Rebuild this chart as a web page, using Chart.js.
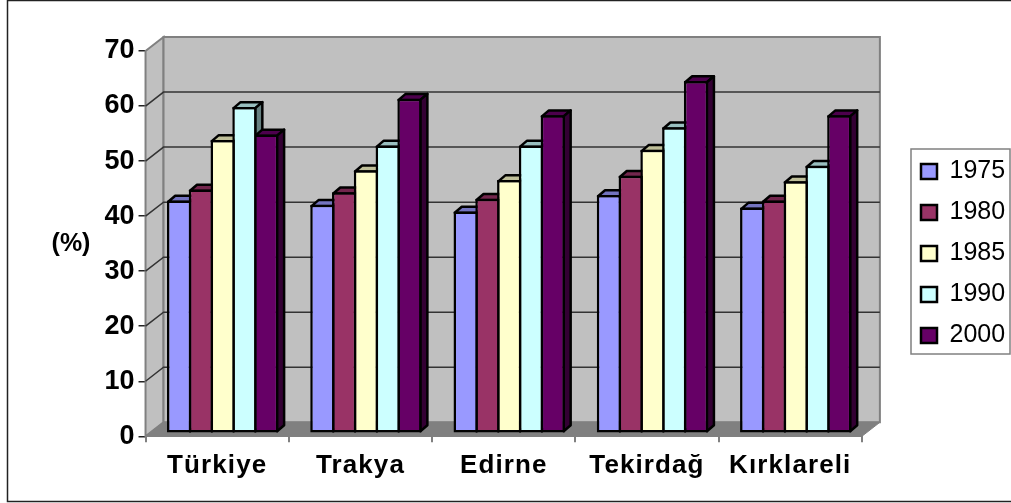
<!DOCTYPE html>
<html>
<head>
<meta charset="utf-8">
<style>
  html, body { margin: 0; padding: 0; background: #fff; }
  #wrap { width: 1011px; height: 503px; }
</style>
<script src="https://cdn.jsdelivr.net/npm/chart.js@4"></script>
</head>
<body>
<div id="wrap"><canvas id="barChart" width="1011" height="503"></canvas></div>
<script>
  var categories = ["Türkiye", "Trakya", "Edirne", "Tekirdağ", "Kırklareli"];
  var years = ["1975", "1980", "1985", "1990", "2000"];

  var values1975 = [42.3, 41.5, 40.3, 43.3, 41];
  var values1980 = [44.3, 43.8, 42.6, 46.8, 42.3];
  var values1985 = [53.3, 47.8, 46, 51.5, 45.8];
  var values1990 = [59.3, 52.3, 52.3, 55.6, 48.6];
  var values2000 = [54.3, 60.8, 57.8, 64, 57.8];

  var seriesValues = [values1975, values1980, values1985, values1990, values2000];
  var frontColors = ['#9999FF', '#993366', '#FFFFCC', '#CCFFFF', '#660066'];
  var topColors = ['#7373BF', '#73264D', '#BFBF99', '#99BFBF', '#4D004D'];
  var sideColors = ['#4D4D80', '#4D1A33', '#808066', '#668080', '#330033'];

  // depth of the walls and of the bars, in pixels
  var wallDx = 18, wallDy = -14;
  var barDx = 7, barDy = -6;
  var shiftX = 5.5, shiftY = -3;
  var barLine = 2.5;

  var fontFamily = '"Liberation Sans", Arial, sans-serif';

  function poly(ctx, pts, fill, stroke, width) {
    ctx.beginPath();
    ctx.moveTo(pts[0][0], pts[0][1]);
    for (var i = 1; i < pts.length; i++) ctx.lineTo(pts[i][0], pts[i][1]);
    ctx.closePath();
    if (fill) { ctx.fillStyle = fill; ctx.fill(); }
    if (stroke) { ctx.strokeStyle = stroke; ctx.lineWidth = width; ctx.stroke(); }
  }

  var threeD = {
    id: 'threeD',
    afterLayout: function (chart) {
      // legend sits in its own box, away from the plot
      var lg = chart.legend;
      var w = lg.width;
      lg.left = 905; lg.right = 905 + w;
      lg.top = 143; lg.bottom = 480; lg.height = 337;

      // wider lettering on the category labels
      var x = chart.scales.x;
      if (!x._spaced) {
        var draw = x.drawLabels;
        x.drawLabels = function (area) {
          chart.ctx.save();
          chart.ctx.letterSpacing = '1.1px';
          draw.call(x, area);
          chart.ctx.restore();
        };
        x._spaced = true;
      }
    },
    beforeDraw: function (chart) {
      var ctx = chart.ctx;
      ctx.save();
      ctx.fillStyle = '#fff';
      ctx.fillRect(0, 0, chart.width, chart.height);
      // outer frame
      ctx.strokeStyle = '#222';
      ctx.lineWidth = 1.5;
      ctx.strokeRect(7.5, 0.5, 1020, 501);
      // legend frame
      ctx.strokeStyle = '#808080';
      ctx.lineWidth = 1.5;
      ctx.strokeRect(911, 149, 99, 205);
      // upright axis title
      ctx.fillStyle = '#000';
      ctx.font = 'bold 25px ' + fontFamily;
      ctx.textAlign = 'center';
      ctx.textBaseline = 'middle';
      ctx.fillText('(%)', 71, 244);
      ctx.restore();
    },
    beforeDatasetsDraw: function (chart) {
      var ctx = chart.ctx, a = chart.chartArea, y = chart.scales.y;
      var l = a.left, r = a.right, t = a.top, b = a.bottom;
      ctx.save();
      poly(ctx, [[l, t], [l + wallDx, t + wallDy], [l + wallDx, b + wallDy], [l, b]], '#C0C0C0', '#808080', 2);
      poly(ctx, [[l + wallDx, t + wallDy], [r + wallDx, t + wallDy], [r + wallDx, b + wallDy], [l + wallDx, b + wallDy]], '#C0C0C0', '#808080', 2);
      poly(ctx, [[l, b], [l + wallDx, b + wallDy], [r + wallDx, b + wallDy], [r, b]], '#808080', '#808080', 1);
      y.ticks.forEach(function (tick) {
        if (tick.value === 0 || tick.value === 70) return;
        var py = y.getPixelForValue(tick.value);
        ctx.beginPath();
        ctx.moveTo(l, py);
        ctx.lineTo(l + wallDx, py + wallDy);
        ctx.lineTo(r + wallDx, py + wallDy);
        ctx.strokeStyle = '#333';
        ctx.lineWidth = 1.5;
        ctx.stroke();
      });
      ctx.restore();
      // bars stand a little inside the floor
      ctx.save();
      ctx.translate(shiftX, shiftY);
      // top and side faces go left to right, the fronts are then drawn by the library
      chart.getSortedVisibleDatasetMetas().forEach(function (meta) {
        var i = meta.index;
        meta.data.forEach(function (el) {
          var p = el.getProps(['x', 'y', 'base', 'width'], true);
          var inset = barLine / 2;
          var x0 = p.x - p.width / 2 + inset, x1 = p.x + p.width / 2 - inset;
          var y0 = p.y + inset, y1 = p.base - inset;
          ctx.lineJoin = 'round';
          poly(ctx, [[x0, y0], [x0 + barDx, y0 + barDy], [x1 + barDx, y0 + barDy], [x1, y0]], topColors[i], '#000', barLine);
          poly(ctx, [[x1, y0], [x1 + barDx, y0 + barDy], [x1 + barDx, y1 + barDy], [x1, y1]], sideColors[i], '#000', barLine);
        });
      });
    },
    afterDatasetsDraw: function (chart) {
      chart.ctx.restore();
    }
  };

  var datasets = years.map(function (year, i) {
    return {
      label: year,
      data: seriesValues[i],
      backgroundColor: frontColors[i],
      borderColor: '#000',
      borderWidth: barLine,
      borderSkipped: false,
      categoryPercentage: 0.76,
      barPercentage: 1.115
    };
  });

  var ctxB = document.getElementById("barChart").getContext('2d');
  var myBarChart = new Chart(ctxB, {
    type: 'bar',
    data: { labels: categories, datasets: datasets },
    plugins: [threeD],
    options: {
      responsive: false,
      animation: false,
      layout: { padding: { left: 100.5, top: 51, right: 39, bottom: 13.5 } },
      plugins: {
        tooltip: { enabled: false },
        legend: {
          position: 'right',
          align: 'start',
          labels: {
            boxWidth: 16,
            boxHeight: 15,
            padding: 16,
            color: '#000',
            font: { family: fontFamily, size: 25 }
          }
        }
      },
      scales: {
        x: {
          grid: { drawOnChartArea: false, tickLength: 6, color: '#808080', lineWidth: 2 },
          border: { color: '#808080', width: 2 },
          ticks: {
            autoSkip: false,
            maxRotation: 0,
            padding: 8,
            color: '#000',
            font: { family: fontFamily, size: 26, weight: 'bold' }
          }
        },
        y: {
          min: 0,
          max: 70,
          grid: { drawOnChartArea: false, tickLength: 7, color: '#222', lineWidth: 1.5 },
          border: { color: '#808080', width: 2 },
          ticks: {
            stepSize: 10,
            padding: 4,
            color: '#000',
            font: { family: fontFamily, size: 27, weight: 'bold' }
          }
        }
      }
    }
  });
</script>
</body>
</html>
